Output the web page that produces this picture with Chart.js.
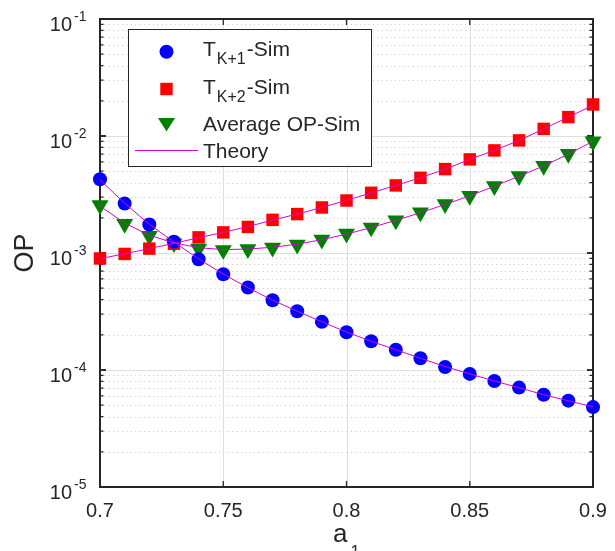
<!DOCTYPE html>
<html><head><meta charset="utf-8">
<script src="https://cdn.jsdelivr.net/npm/chart.js@4.4.0/dist/chart.umd.min.js"></script>
<style>html,body{margin:0;padding:0;background:#fff;}canvas{display:block;}</style>
</head><body>
<canvas id="c" width="615" height="551"></canvas>
<script>
// ---- data ----
const a1 = [0.70,0.71,0.72,0.73,0.74,0.75,0.76,0.77,0.78,0.79,0.80,0.81,0.82,0.83,0.84,0.85,0.86,0.87,0.88,0.89,0.90];
const simK1 = [4.27e-3,2.65e-3,1.75e-3,1.25e-3,8.85e-4,6.59e-4,5.07e-4,3.95e-4,3.18e-4,2.58e-4,2.10e-4,1.76e-4,1.49e-4,1.26e-4,1.06e-4,9.26e-5,8.06e-5,7.07e-5,6.15e-5,5.47e-5,4.82e-5];
const simK2 = [8.98e-4,9.82e-4,1.09e-3,1.20e-3,1.36e-3,1.50e-3,1.67e-3,1.92e-3,2.15e-3,2.45e-3,2.81e-3,3.27e-3,3.78e-3,4.39e-3,5.21e-3,6.31e-3,7.53e-3,9.17e-3,1.15e-2,1.45e-2,1.86e-2];
const simAvg = [2.56e-3,1.77e-3,1.40e-3,1.21e-3,1.09e-3,1.06e-3,1.08e-3,1.11e-3,1.18e-3,1.30e-3,1.46e-3,1.65e-3,1.90e-3,2.22e-3,2.61e-3,3.08e-3,3.73e-3,4.54e-3,5.56e-3,7.04e-3,9.00e-3];
const theoryK1 = [4.22e-3,2.66e-3,1.76e-3,1.24e-3,8.90e-4,6.60e-4,5.05e-4,3.95e-4,3.18e-4,2.58e-4,2.11e-4,1.76e-4,1.49e-4,1.26e-4,1.07e-4,9.25e-5,8.05e-5,7.05e-5,6.15e-5,5.45e-5,4.85e-5];
const theoryK2 = [8.95e-4,9.85e-4,1.09e-3,1.21e-3,1.35e-3,1.50e-3,1.68e-3,1.91e-3,2.15e-3,2.45e-3,2.82e-3,3.26e-3,3.78e-3,4.40e-3,5.20e-3,6.30e-3,7.55e-3,9.15e-3,1.15e-2,1.45e-2,1.83e-2];
const theoryAvg = [2.52e-3,1.80e-3,1.42e-3,1.22e-3,1.11e-3,1.07e-3,1.08e-3,1.12e-3,1.19e-3,1.30e-3,1.45e-3,1.65e-3,1.90e-3,2.21e-3,2.60e-3,3.08e-3,3.72e-3,4.53e-3,5.55e-3,7.00e-3,9.00e-3];
const xTicks = [0.7,0.75,0.8,0.85,0.9];
const xTickLabels = ['0.7','0.75','0.8','0.85','0.9'];
const yDecades = [1e-1,1e-2,1e-3,1e-4,1e-5];
const yTickExps = ['-1','-2','-3','-4','-5'];
const legendLabels = [['T','K+1','-Sim'],['T','K+2','-Sim'],['Average OP-Sim','',''],['Theory','','']];
const xTitle = ['a','1'];
const yTitle = 'OP';

const FONT = '"Liberation Sans", Arial, Helvetica, sans-serif';
const TXT = '#262626';
const pts = arr => a1.map((x,i)=>({x:x, y:arr[i]}));

const decor = {
  id:'decor',
  beforeDatasetsDraw(chart){
    const ctx = chart.ctx, xs = chart.scales.x, ys = chart.scales.y;
    const {left,right,top,bottom} = chart.chartArea;
    ctx.save();
    // minor grid (dotted)
    ctx.strokeStyle = '#cfcfcf'; ctx.lineWidth = 1; ctx.setLineDash([1.2,3.2]);
    for (let d=-5; d<=-2; d++) for (let m=2; m<=9; m++){
      const py = Math.round(ys.getPixelForValue(m*Math.pow(10,d)))+0.5;
      ctx.beginPath(); ctx.moveTo(left,py); ctx.lineTo(right,py); ctx.stroke();
    }
    ctx.setLineDash([]);
    // major grid
    ctx.strokeStyle = '#dedede';
    yDecades.forEach(v=>{const py=Math.round(ys.getPixelForValue(v))+0.5; ctx.beginPath(); ctx.moveTo(left,py); ctx.lineTo(right,py); ctx.stroke();});
    xTicks.forEach(v=>{const px=Math.round(xs.getPixelForValue(v))+0.5; ctx.beginPath(); ctx.moveTo(px,top); ctx.lineTo(px,bottom); ctx.stroke();});
    // ticks
    ctx.strokeStyle = TXT; ctx.lineWidth = 1.3;
    for (let d=-5; d<=-2; d++) for (let m=1; m<=10; m++){
      const v = m*Math.pow(10,d);
      const py = ys.getPixelForValue(v);
      const len = (m===1||m===10)?6:3.5;
      ctx.beginPath(); ctx.moveTo(left,py); ctx.lineTo(left+len,py); ctx.moveTo(right,py); ctx.lineTo(right-len,py); ctx.stroke();
    }
    xTicks.forEach(v=>{const px=xs.getPixelForValue(v); ctx.beginPath(); ctx.moveTo(px,bottom); ctx.lineTo(px,bottom-6); ctx.moveTo(px,top); ctx.lineTo(px,top+6); ctx.stroke();});
    // box
    ctx.lineWidth = 2; ctx.strokeStyle = TXT;
    ctx.strokeRect(left,top,right-left,bottom-top);
    // tick labels
    ctx.fillStyle = TXT;
    ctx.font = '20px '+FONT; ctx.textAlign='center'; ctx.textBaseline='alphabetic';
    xTicks.forEach((v,i)=>ctx.fillText(xTickLabels[i], xs.getPixelForValue(v), bottom+30));
    yDecades.forEach((v,i)=>{
      const py = ys.getPixelForValue(v);
      ctx.font = '20px '+FONT; ctx.textAlign='right';
      ctx.fillText('10', 72, py+11.5);
      ctx.font = '14px '+FONT; ctx.textAlign='left';
      ctx.fillText(yTickExps[i], 74, py+1.5);
    });
    // axis titles
    ctx.font = '26px '+FONT; ctx.textAlign='left';
    const cx = (left+right)/2;
    const wa = ctx.measureText(xTitle[0]).width;
    ctx.font = '17px '+FONT;
    const w1 = ctx.measureText(xTitle[1]).width;
    const sx = cx - (wa+3+w1)/2;
    ctx.font = '26px '+FONT; ctx.fillText(xTitle[0], sx, 542);
    ctx.font = '17px '+FONT; ctx.fillText(xTitle[1], sx+wa+3, 557);
    ctx.save();
    ctx.translate(26, (top+bottom)/2); ctx.rotate(-Math.PI/2);
    ctx.font = '27px '+FONT; ctx.textAlign='center'; ctx.textBaseline='middle';
    ctx.fillText(yTitle, 0, 0);
    ctx.restore();
    ctx.restore();
  },
  afterDraw(chart){
    const ctx = chart.ctx;
    ctx.save();
    // legend box
    ctx.fillStyle = '#fff'; ctx.fillRect(128,29,244,138);
    ctx.strokeStyle = TXT; ctx.lineWidth = 1; ctx.strokeRect(128.5,29.5,243,137);
    const mx = 166.5;
    // markers
    ctx.fillStyle = '#0000ff'; ctx.beginPath(); ctx.arc(mx,51.7,7,0,Math.PI*2); ctx.fill();
    ctx.fillStyle = '#ff0000'; ctx.fillRect(mx-6.2,89-6.2,12.4,12.4);
    ctx.fillStyle = '#008000'; ctx.beginPath();
    ctx.moveTo(mx-8.5,118); ctx.lineTo(mx+8.5,118); ctx.lineTo(mx,131.5); ctx.closePath(); ctx.fill();
    ctx.strokeStyle = '#d800d8'; ctx.lineWidth = 1; ctx.beginPath(); ctx.moveTo(135,150.5); ctx.lineTo(198,150.5); ctx.stroke();
    // texts
    ctx.fillStyle = TXT; ctx.textAlign='left'; ctx.textBaseline='alphabetic';
    const tx = 203;
    const baselines = [56,93.5,130.7,158.3];
    legendLabels.forEach((l,i)=>{
      ctx.font = '21px '+FONT;
      ctx.fillText(l[0], tx, baselines[i]);
      let x = tx + ctx.measureText(l[0]).width + 1;
      if (l[1]) {
        ctx.font = '16px '+FONT;
        ctx.fillText(l[1], x, baselines[i]+8);
        x += ctx.measureText(l[1]).width + 1;
        ctx.font = '21px '+FONT;
        ctx.fillText(l[2], x, baselines[i]);
      }
    });
    ctx.restore();
  }
};

const marker = (label, data, color, style, r, rot) => ({
  label, data: pts(data), showLine:false, pointStyle:style, pointRadius:r, pointHoverRadius:r,
  pointRotation: rot||0, backgroundColor:color, borderColor:color, pointBorderWidth:0, borderWidth:0, order:1, clip:false
});
const theory = (data) => ({
  label:'Theory', data: pts(data), showLine:true, pointRadius:0, borderColor:'#d800d8', borderWidth:1, tension:0, order:0, clip:false, fill:false
});

new Chart(document.getElementById('c'), {
  type:'line',
  data:{ datasets:[
    marker('TK+1-Sim', simK1, '#0000ff', 'circle', 7),
    marker('TK+2-Sim', simK2, '#ff0000', 'rect', 8.8),
    marker('Average OP-Sim', simAvg, '#008000', 'triangle', 9.8, 180),
    theory(theoryK1), theory(theoryK2), theory(theoryAvg)
  ]},
  options:{
    responsive:false, animation:false, devicePixelRatio:1,
    layout:{ padding:{left:0,right:22,top:19,bottom:0}, autoPadding:false },
    plugins:{ legend:{display:false}, tooltip:{enabled:false} },
    events:[],
    scales:{
      x:{ type:'linear', min:0.7, max:0.9, grid:{display:false}, border:{display:false}, ticks:{display:false}, afterFit(s){ s.height = 64; } },
      y:{ type:'logarithmic', min:1e-5, max:1e-1, grid:{display:false}, border:{display:false}, ticks:{display:false}, afterFit(s){ s.width = 100; } }
    }
  },
  plugins:[decor]
});
</script>
</body></html>
